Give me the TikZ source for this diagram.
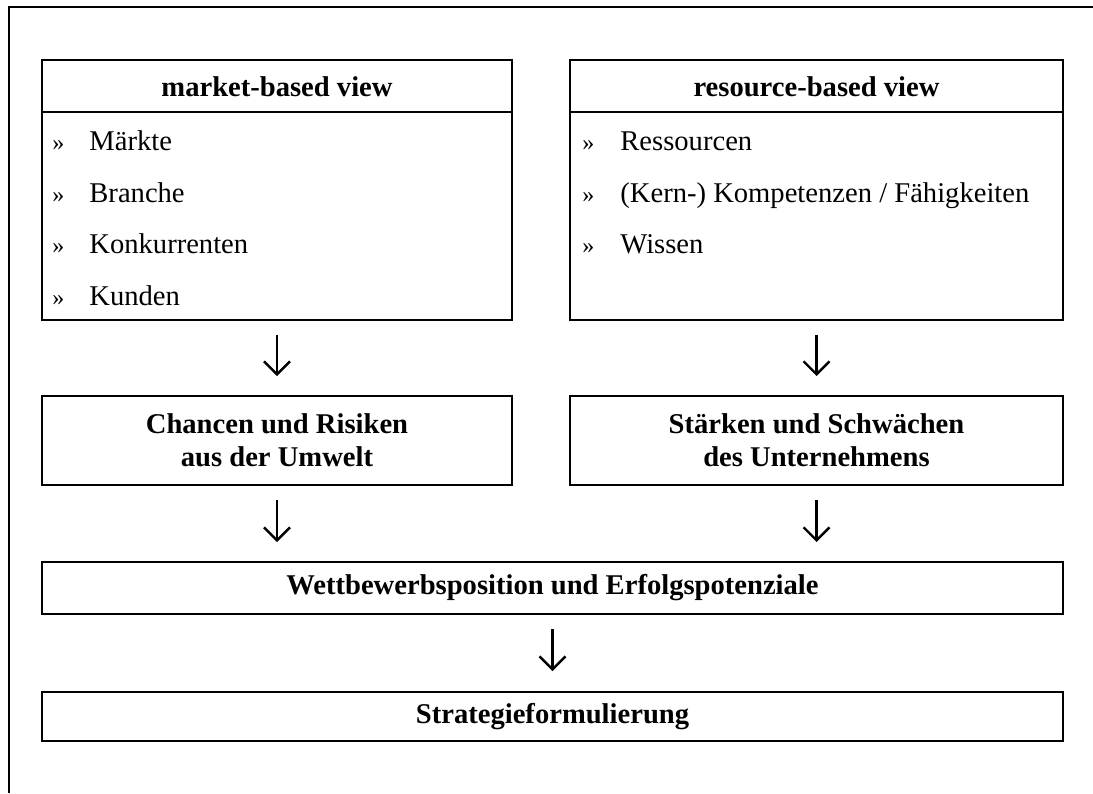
\documentclass[tikz,border=0pt]{standalone}
\usepackage{fontspec}
\setmainfont{Liberation Serif}
\usetikzlibrary{arrows.meta}

\tikzset{
  box/.style={draw, line width=1pt, inner sep=0pt, align=center,
              font=\fontsize{14.3pt}{16.5pt}\selectfont\bfseries},
  head/.style={font=\fontsize{14.3pt}{16.5pt}\selectfont\bfseries, inner sep=0pt, anchor=base},
  item/.style={font=\fontsize{14.3pt}{16.5pt}\selectfont, inner sep=0pt, anchor=base west},
  bulletmark/.style={font=\fontsize{12pt}{14pt}\selectfont, inner sep=0pt, anchor=base west},
  arr/.style={line width=1.2pt, -{Straight Barb[length=6.5pt, width=13pt, line width=1.2pt]}},
  frame/.style={line width=1pt}
}

\begin{document}
\begin{tikzpicture}[x=0.5pt, y=-0.5pt]
  \useasboundingbox (0,0) rectangle (1093,793);
  % outer frame, open to the right and bottom
  \draw[frame] (9,793) -- (9,7) -- (1093,7);

  % the two views
  \node[box, minimum width=235pt, minimum height=130pt] (mbv) at (277,190) {};
  \node[box, minimum width=246.5pt, minimum height=130pt] (rbv) at (816.5,190) {};
  \draw[line width=1pt] (42,112) -- (512,112);
  \draw[line width=1pt] (570,112) -- (1063,112);
  \node[head] (mbvh) at (277,96) {market-based view};
  \node[head] (rbvh) at (816.5,96) {resource-based view};

  % market-based items
  \node[bulletmark] (m1b) at (52,150) {»};
  \node[item] (m1) at (89,150) {Märkte};
  \node[bulletmark] (m2b) at (52,202) {»};
  \node[item] (m2) at (89,202) {Branche};
  \node[bulletmark] (m3b) at (52,253) {»};
  \node[item] (m3) at (89,253) {Konkurrenten};
  \node[bulletmark] (m4b) at (52,305) {»};
  \node[item] (m4) at (89,305) {Kunden};

  % resource-based items
  \node[bulletmark] (r1b) at (582,150) {»};
  \node[item] (r1) at (620,150) {Ressourcen};
  \node[bulletmark] (r2b) at (582,202) {»};
  \node[item] (r2) at (620,202) {(Kern-) Kompetenzen / Fähigkeiten};
  \node[bulletmark] (r3b) at (582,253) {»};
  \node[item] (r3) at (620,253) {Wissen};

  % analysis results
  \node[box, minimum width=235pt, minimum height=44.5pt] (cr) at (277,440.5)
    {Chancen und Risiken\\aus der Umwelt};
  \node[box, minimum width=246.5pt, minimum height=44.5pt] (ss) at (816.5,440.5)
    {Stärken und Schwächen\\des Unternehmens};

  \node[box, minimum width=510.5pt, minimum height=26pt] (wb) at (552.5,588)
    {Wettbewerbsposition und Erfolgspotenziale};
  \node[box, minimum width=510.5pt, minimum height=24.5pt] (sf) at (552.5,716.5)
    {Strategieformulierung};

  % connectors
  \draw[arr, shorten <=7pt, shorten >=9.5pt] (mbv.south) -- (cr.north);
  \draw[arr, shorten <=7pt, shorten >=9.5pt] (rbv.south) -- (ss.north);
  \draw[arr, shorten <=7pt, shorten >=9.5pt] (cr.south) -- (cr.south |- wb.north);
  \draw[arr, shorten <=7pt, shorten >=9.5pt] (ss.south) -- (ss.south |- wb.north);
  \draw[arr, shorten <=7pt, shorten >=10pt] (wb.south) -- (sf.north);
\end{tikzpicture}
\end{document}
